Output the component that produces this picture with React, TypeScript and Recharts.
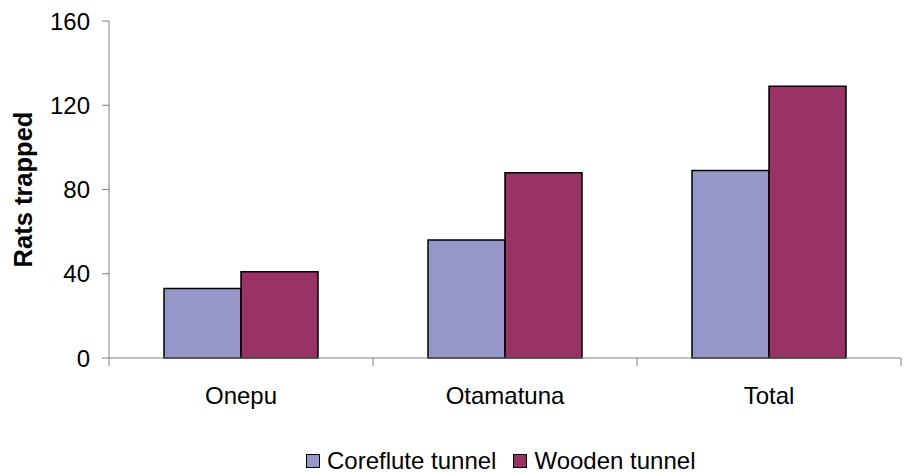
import { BarChart, Bar, XAxis, YAxis, Legend } from "recharts";

const sites = ["Onepu", "Otamatuna", "Total"];
const corefluteTunnel = [33, 56, 89];
const woodenTunnel = [41, 88, 129];
const yTicks = [0, 40, 80, 120, 160];

const data = sites.map((site, i) => ({
    site,
    coreflute: corefluteTunnel[i],
    wooden: woodenTunnel[i],
}));

const FONT = "'Liberation Sans', Arial, Helvetica, sans-serif";
const AXIS = "#808080";
const CHART_W = 904;
const CHART_H = 473;
const MARGIN = { top: 21, right: 3, left: 0, bottom: 0 };
const Y_AXIS_W = 109;
const BAND = (CHART_W - MARGIN.left - MARGIN.right - Y_AXIS_W) / sites.length;

function SiteTick(props: any) {
    const { x, y, payload, index } = props;
    const left = x - BAND / 2;
    const right = x + BAND / 2;
    return (
        <g>
            <line x1={left} y1={y} x2={left} y2={y + 8} stroke={AXIS} strokeWidth={1} />
            {index === sites.length - 1 && (
                <line x1={right} y1={y} x2={right} y2={y + 8} stroke={AXIS} strokeWidth={1} />
            )}
            <text
                x={x}
                y={y + 29}
                dy="0.71em"
                textAnchor="middle"
                fill="#000"
                fontSize={24}
                fontFamily={FONT}
            >
                {payload.value}
            </text>
        </g>
    );
}

function YLabel(props: any) {
    const vb = props.viewBox || {};
    const cy = (vb.y ?? 21) + (vb.height ?? 337) / 2;
    const cx = 23;
    return (
        <text
            x={cx}
            y={cy}
            transform={`rotate(-90 ${cx} ${cy})`}
            textAnchor="middle"
            dominantBaseline="central"
            fontSize={25.5}
            fontWeight="bold"
            fontFamily={FONT}
            fill="#000"
        >
            Rats trapped
        </text>
    );
}

function LegendBox(props: any) {
    const { payload } = props;
    return (
        <div style={{ display: "flex", alignItems: "center", fontFamily: FONT, fontSize: 24, color: "#000", whiteSpace: "nowrap" }}>
            {(payload || []).map((entry: any, i: number) => (
                <div key={entry.value} style={{ display: "flex", alignItems: "center", marginRight: i === 0 ? 17 : 0 }}>
                    <span
                        style={{
                            display: "inline-block",
                            width: 12,
                            height: 12,
                            background: entry.color,
                            border: "1.5px solid #000",
                            marginRight: 7,
                        }}
                    />
                    <span>{entry.value}</span>
                </div>
            ))}
        </div>
    );
}

export default function App() {
    return (
        <div style={{ position: "absolute", left: 0, top: 0, width: CHART_W, height: CHART_H, background: "#fff" }}>
            <BarChart
                width={CHART_W}
                height={CHART_H}
                data={data}
                margin={MARGIN}
                barCategoryGap={55}
                barGap={0}
            >
                <XAxis
                    dataKey="site"
                    height={115}
                    axisLine={{ stroke: AXIS, strokeWidth: 1 }}
                    tickLine={false}
                    tickSize={0}
                    tickMargin={0}
                    tick={<SiteTick />}
                    interval={0}
                />
                <YAxis
                    width={Y_AXIS_W}
                    domain={[0, 160]}
                    ticks={yTicks}
                    interval={0}
                    axisLine={{ stroke: AXIS, strokeWidth: 1 }}
                    tickLine={{ stroke: AXIS, strokeWidth: 1 }}
                    tickSize={7}
                    tickMargin={12}
                    tick={{ fill: "#000", fontSize: 24, fontFamily: FONT }}
                    label={<YLabel />}
                />
                <Legend
                    layout="horizontal"
                    verticalAlign="middle"
                    align="center"
                    content={<LegendBox />}
                    wrapperStyle={{ left: 306, top: 447, width: "auto" }}
                />
                <Bar
                    dataKey="coreflute"
                    name="Coreflute tunnel"
                    fill="#9696C9"
                    stroke="#000"
                    strokeWidth={1.5}
                    isAnimationActive={false}
                />
                <Bar
                    dataKey="wooden"
                    name="Wooden tunnel"
                    fill="#993366"
                    stroke="#000"
                    strokeWidth={1.5}
                    isAnimationActive={false}
                />
            </BarChart>
        </div>
    );
}
